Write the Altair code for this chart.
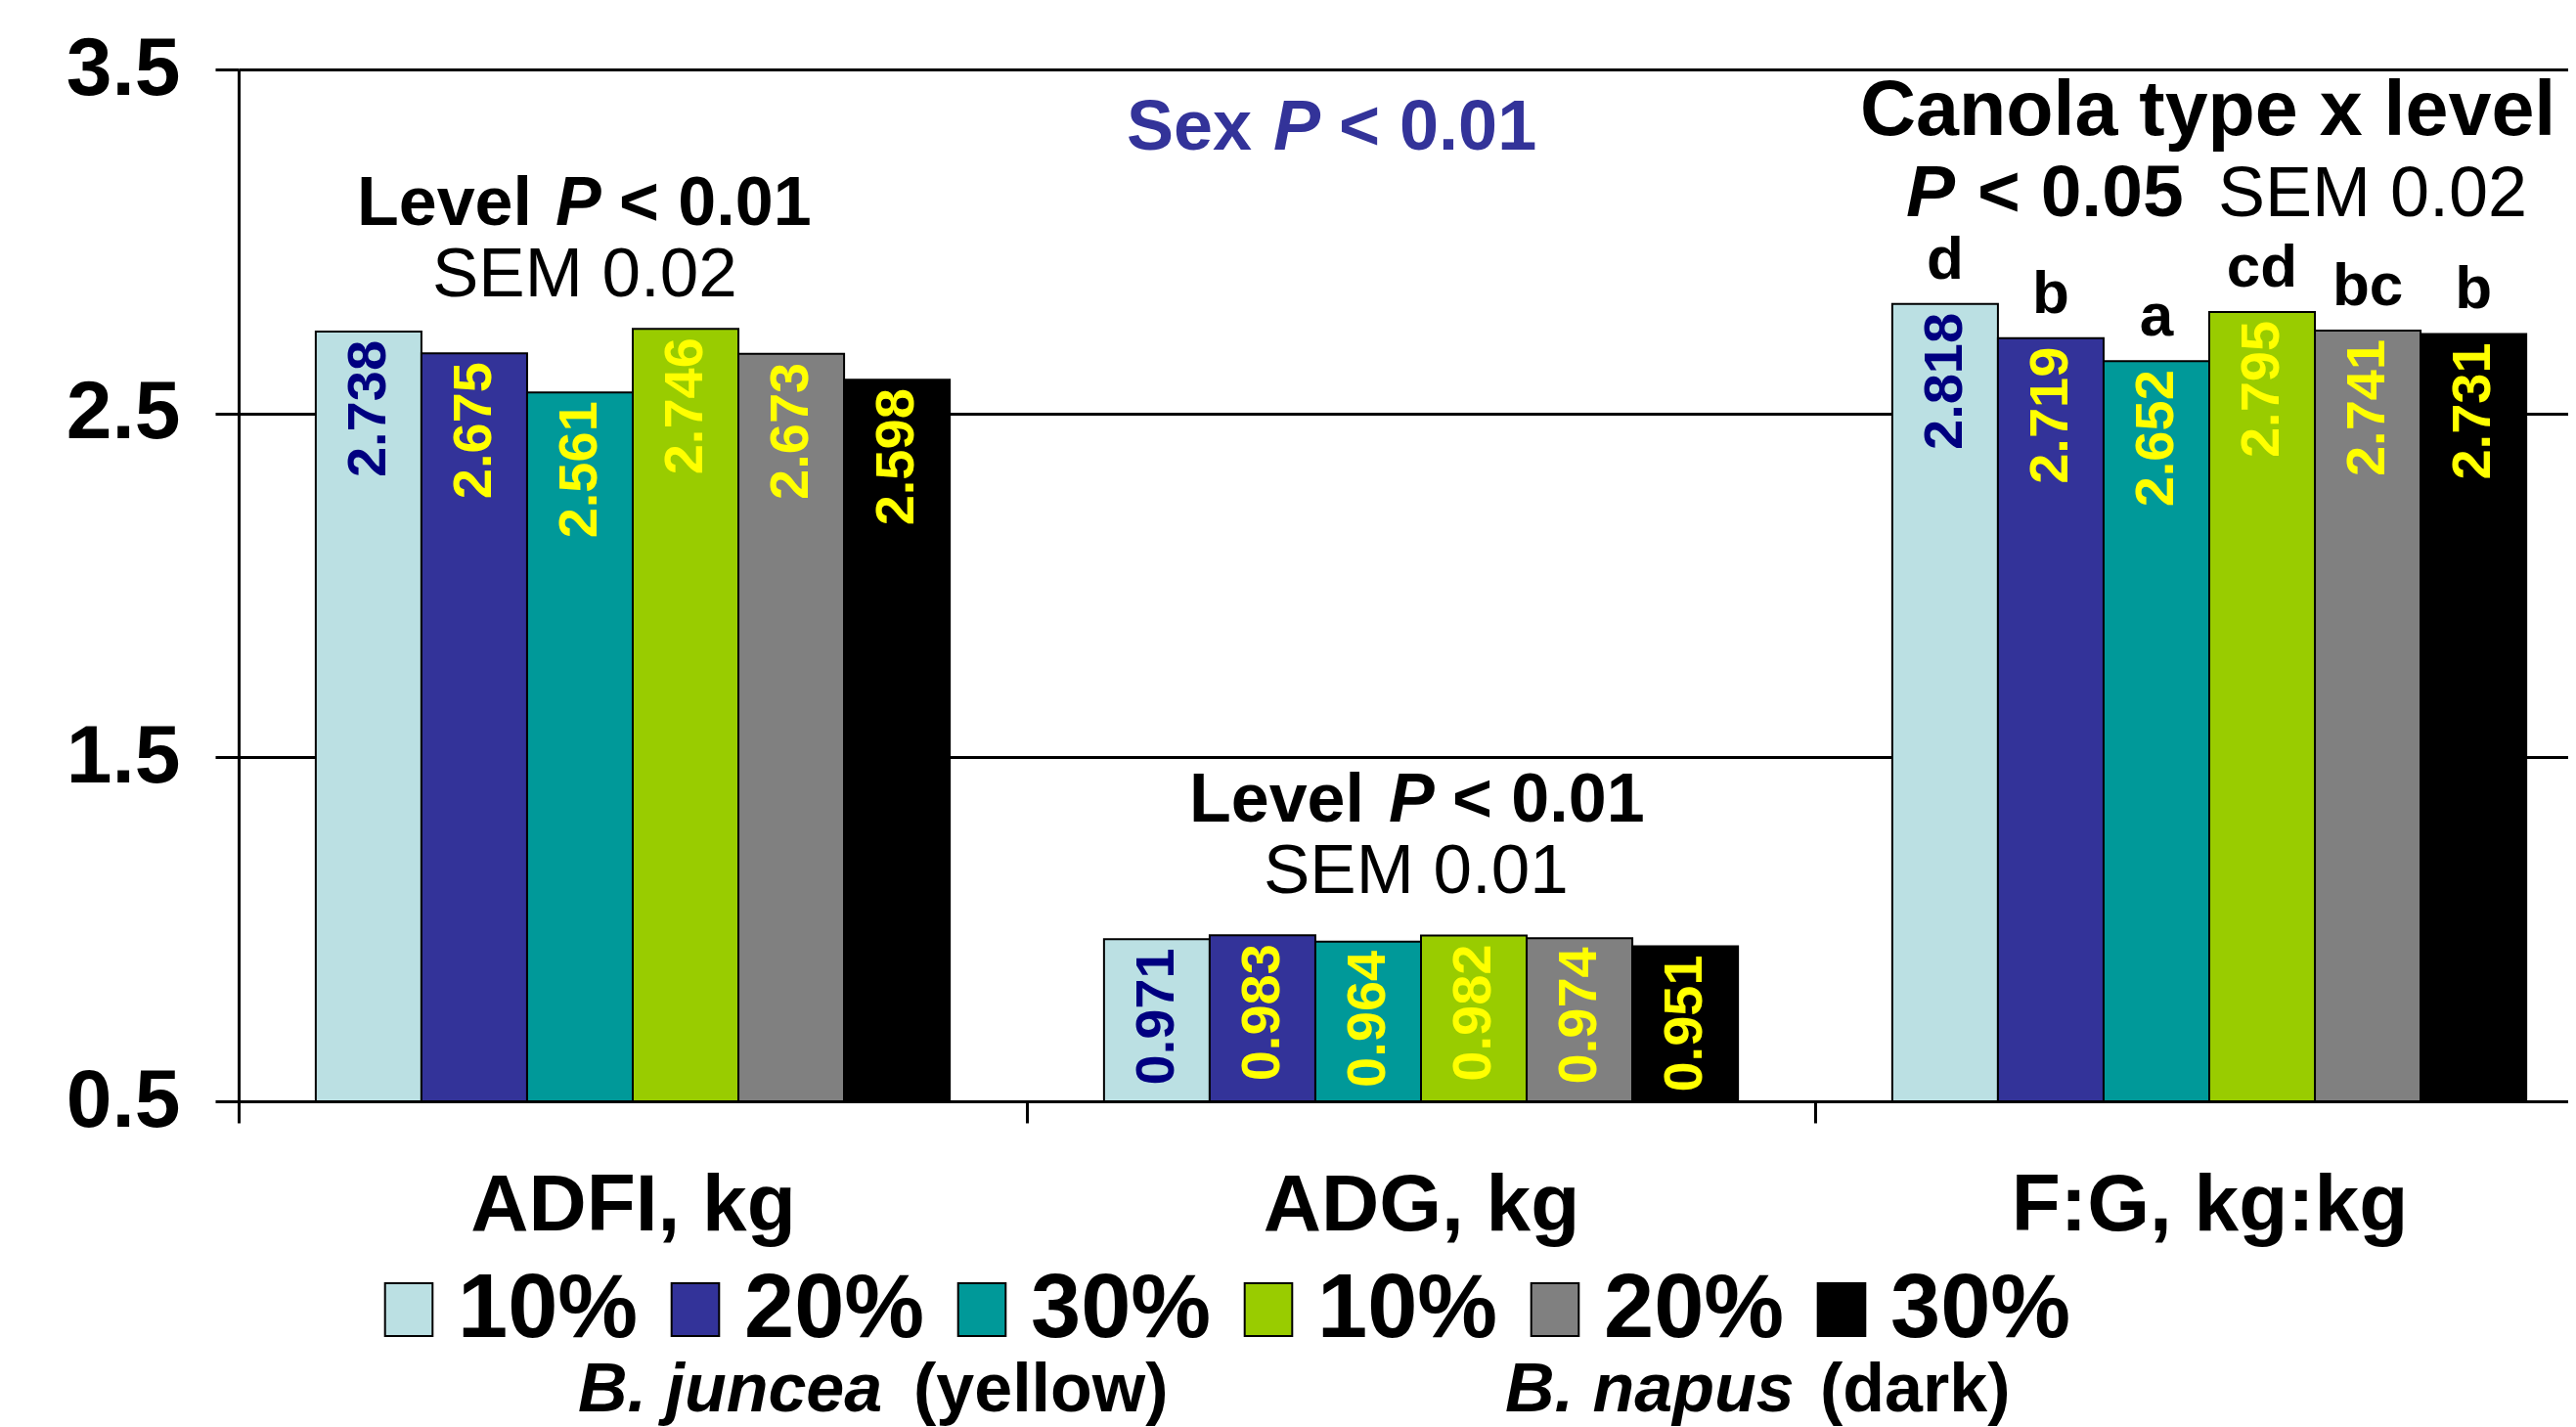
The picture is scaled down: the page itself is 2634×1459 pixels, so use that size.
import altair as alt
import pandas as pd

# ---------------- data ----------------
categories = ["ADFI, kg", "ADG, kg", "F:G, kg:kg"]
series = ["J10", "J20", "J30", "N10", "N20", "N30"]   # B. juncea 10/20/30 %, B. napus 10/20/30 %
adfi = [2.738, 2.675, 2.561, 2.746, 2.673, 2.598]
adg = [0.971, 0.983, 0.964, 0.982, 0.974, 0.951]
fg = [2.818, 2.719, 2.652, 2.795, 2.741, 2.731]
fg_letters = ["d", "b", "a", "cd", "bc", "b"]
bar_colors = ["#BBE0E3", "#333399", "#009999", "#99CC00", "#808080", "#000000"]
label_colors = ["#000080", "#FFFF00", "#FFFF00", "#FFFF00", "#FFFF00", "#FFFF00"]
y_ticks = [0.5, 1.5, 2.5, 3.5]

rows = []
for cat, vals in zip(categories, [adfi, adg, fg]):
    for s, v, lc in zip(series, vals, label_colors):
        rows.append({"cat": cat, "series": s, "value": v, "lc": lc})
df = pd.DataFrame(rows)
letters_df = pd.DataFrame({"cat": [categories[2]] * 6, "series": series,
                           "value": fg, "letter": fg_letters})

FONT = "Liberation Sans"
OX, OY = 244, 71          # page position of the plot origin
W, H = 2382, 1055
STEP_RANGE = 2418         # three category bands (last one cropped by the page edge)

x_enc = alt.X("cat:N", sort=categories,
              scale=alt.Scale(domain=categories, range=[0, STEP_RANGE],
                              paddingInner=0, paddingOuter=0),
              axis=alt.Axis(title=None, labelAngle=0, labelFontSize=82, labelFont=FONT,
                            labelFontWeight="bold", labelColor="black", labelPadding=44,
                            tickBand="extent", tickSize=22, tickWidth=3, tickColor="black",
                            domainColor="black", domainWidth=3, grid=False, labelLimit=0))
xo_enc = alt.XOffset("series:N", sort=series,
                     scale=alt.Scale(domain=series, paddingInner=0, paddingOuter=0.73))
y_enc = alt.Y("value:Q",
              scale=alt.Scale(domain=[0.5, 3.5], zero=False, nice=False),
              axis=alt.Axis(title=None, values=y_ticks, format=".1f", labelFontSize=84,
                            labelFont=FONT, labelFontWeight="bold", labelColor="black",
                            labelPadding=36, tickSize=24, tickWidth=3, tickColor="black",
                            domainColor="black", domainWidth=3, grid=True,
                            gridColor="black", gridWidth=3, gridOpacity=1))

bars = alt.Chart(df).mark_bar(stroke="black", strokeWidth=2, opacity=1).encode(
    x=x_enc, xOffset=xo_enc, y=y_enc, y2=alt.datum(0.5),
    color=alt.Color("series:N", sort=series,
                    scale=alt.Scale(domain=series, range=bar_colors),
                    legend=alt.Legend(title=None, orient="none", legendX=128, legendY=1222,
                                      direction="horizontal", columns=6,
                                      symbolType="M-0.9,-1H0.9V1H-0.9Z", symbolSize=2916,
                                      symbolStrokeColor="black", symbolStrokeWidth=2,
                                      symbolOpacity=1, labelLimit=0,
                                      labelExpr="slice(datum.label, 1) + '%'",
                                      labelFont=FONT, labelFontSize=92,
                                      labelFontWeight="bold", labelColor="black",
                                      labelOffset=4, columnPadding=12, padding=0)),
)

bar_labels = alt.Chart(df).mark_text(angle=270, align="right", baseline="middle", dx=-9,
                                     font=FONT, fontSize=56, fontWeight="bold").encode(
    x=alt.X("cat:N", sort=categories), xOffset=alt.XOffset("series:N", sort=series),
    y="value:Q",
    text=alt.Text("value:Q", format=".3f"),
    color=alt.Color("lc:N", scale=None),
)

letter_marks = alt.Chart(letters_df).mark_text(baseline="alphabetic", dy=-26, font=FONT,
                                               fontSize=62, fontWeight="bold",
                                               color="black").encode(
    x=alt.X("cat:N", sort=categories), xOffset=alt.XOffset("series:N", sort=series),
    y="value:Q", text="letter:N",
)

one = pd.DataFrame({"k": [0]})


def seg(text, px, py, size, weight="bold", style="normal", color="black", align="left"):
    return alt.Chart(one).mark_text(text=text, align=align, baseline="alphabetic", font=FONT,
                                    fontSize=size, fontWeight=weight, fontStyle=style,
                                    color=color).encode(x=alt.value(px - OX),
                                                        y=alt.value(py - OY))


NAVY = "#333399"
annotations = [
    # Sex P < 0.01
    seg("Sex", 1152, 153, 72, color=NAVY),
    seg("P", 1302, 153, 72, style="italic", color=NAVY),
    seg("< 0.01", 1369, 153, 72, color=NAVY),
    # ADFI
    seg("Level", 365, 230, 70),
    seg("P", 568, 230, 70, style="italic"),
    seg("< 0.01", 633, 230, 70),
    seg("SEM 0.02", 442, 303, 71, weight="normal"),
    # ADG
    seg("Level", 1216, 840, 70),
    seg("P", 1420, 840, 70, style="italic"),
    seg("< 0.01", 1485, 840, 70),
    seg("SEM 0.01", 1292, 913, 71, weight="normal"),
    # F:G
    seg("Canola type x level", 1902, 138, 79),
    seg("P", 1949, 221, 75, style="italic"),
    seg("< 0.05", 2022, 221, 75),
    seg("SEM 0.02", 2268, 221, 72, weight="normal"),
    # legend group captions
    seg("B. juncea", 591, 1443, 70, style="italic"),
    seg("(yellow)", 934, 1443, 70),
    seg("B. napus", 1539, 1443, 70, style="italic"),
    seg("(dark)", 1861, 1443, 70),
]

chart = alt.layer(bars, bar_labels, letter_marks, *annotations).resolve_scale(
    color="independent"
).properties(
    width=W, height=H,
    autosize=alt.AutoSizeParams(type="none"),
    padding={"left": OX - 8, "top": OY - 8, "right": 0, "bottom": 1451 - (OY - 8) - H},
).configure_view(strokeWidth=0).configure(background="white")

chart.save("out.html", embed_options={"renderer": "svg", "actions": False})
